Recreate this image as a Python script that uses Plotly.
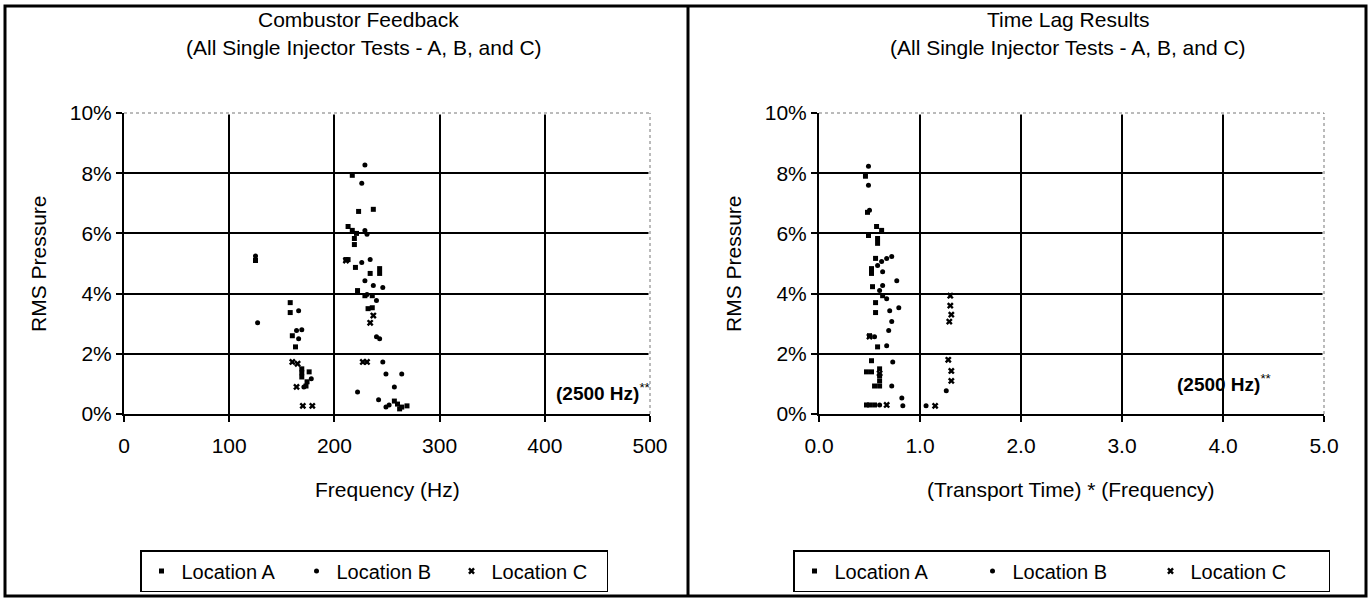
import plotly.graph_objects as go

# ---------------- data ----------------
# Left chart: Frequency (Hz) vs RMS Pressure (%)
freq_A = [125, 158, 158, 160, 163, 169, 169, 169, 173, 217, 223, 237, 213, 217, 221, 219, 219,
          211, 213, 220, 243, 243, 234, 222, 229, 236, 232, 236, 257, 260, 264, 269, 262, 176, 174]
rms_A = [5.1, 3.7, 3.37, 2.6, 2.23, 1.5, 1.37, 1.23, 0.93, 7.93, 6.73, 6.8, 6.23, 6.1, 6.0, 5.83, 5.63,
         5.13, 5.13, 4.87, 4.83, 4.67, 4.67, 4.1, 3.93, 3.93, 3.5, 3.53, 0.43, 0.33, 0.23, 0.27, 0.17, 1.4, 1.07]
freq_B = [125, 127, 166, 164, 169, 166, 229, 226, 229, 231, 226, 234, 229, 237, 246, 231, 240,
          240, 243, 246, 249, 264, 222, 257, 242, 249, 252, 178, 171]
rms_B = [5.25, 3.03, 3.43, 2.77, 2.8, 2.5, 8.27, 7.67, 6.1, 5.97, 5.03, 5.13, 4.43, 4.27, 4.2, 3.97, 3.77,
         2.57, 2.5, 1.73, 1.33, 1.33, 0.73, 0.9, 0.47, 0.23, 0.3, 1.17, 0.9]
freq_C = [160, 165, 164, 170, 179, 237, 234, 227, 231, 211]
rms_C = [1.73, 1.67, 0.9, 0.27, 0.27, 3.27, 3.03, 1.73, 1.73, 5.1]

# Right chart: (Transport Time)*(Frequency) vs RMS Pressure (%)
lag_A = [0.46, 0.48, 0.57, 0.58, 0.58, 0.56, 0.52, 0.52, 0.53, 0.63, 0.56, 0.56, 0.50, 0.58, 0.52,
         0.47, 0.52, 0.60, 0.60, 0.60, 0.60, 0.55, 0.47, 0.50, 0.55, 0.49, 0.62]
rmsl_A = [7.9, 6.7, 6.23, 5.83, 5.67, 5.17, 4.83, 4.67, 4.23, 3.93, 3.7, 3.37, 2.6, 2.23, 1.77,
          1.4, 1.4, 1.5, 1.27, 1.1, 0.93, 0.93, 0.3, 0.3, 0.3, 5.93, 6.1]
lag_B = [0.49, 0.49, 0.50, 0.62, 0.67, 0.72, 0.58, 0.63, 0.77, 0.60, 0.63, 0.67, 0.70, 0.79, 0.72,
         0.69, 0.55, 0.67, 0.73, 0.72, 0.82, 0.83, 1.06, 1.26, 0.60]
rmsl_B = [8.23, 7.6, 6.77, 5.07, 5.17, 5.23, 4.93, 4.73, 4.43, 4.1, 4.27, 3.83, 3.43, 3.53, 3.07,
          2.77, 2.57, 2.27, 1.73, 0.93, 0.53, 0.27, 0.27, 0.77, 0.3]
lag_C = [1.30, 1.30, 1.31, 1.29, 1.28, 1.31, 1.31, 1.15, 0.67, 0.50, 0.60]
rmsl_C = [3.93, 3.6, 3.3, 3.07, 1.8, 1.43, 1.1, 0.27, 0.3, 2.57, 1.35]

series_names = ["Location A", "Location B", "Location C"]
y_ticks = [0, 2, 4, 6, 8, 10]
left_xticks = [0, 100, 200, 300, 400, 500]
right_xticks = [0.0, 1.0, 2.0, 3.0, 4.0, 5.0]

# ---------------- layout geometry ----------------
W, H = 1369, 599
FONT = "Liberation Sans, Arial, Helvetica, sans-serif"
FS = 21

def px(x):
    return x / W

def py(y):
    return 1 - y / H

L_dom = [px(124), px(650)]
R_dom = [px(819), px(1324)]
Y_dom = [py(414), py(113)]

symbols = ["square", "circle", "x"]
sizes = [5, 5, 6]

fig = go.Figure()

left_data = [(freq_A, rms_A), (freq_B, rms_B), (freq_C, rms_C)]
right_data = [(lag_A, rmsl_A), (lag_B, rmsl_B), (lag_C, rmsl_C)]

for i, (xs, ys) in enumerate(left_data):
    fig.add_trace(go.Scatter(
        x=xs, y=ys, mode="markers", name=series_names[i],
        marker=dict(symbol=symbols[i], size=sizes[i], color="black",
                    line=dict(width=0)),
        xaxis="x", yaxis="y", legend="legend", cliponaxis=False))

for i, (xs, ys) in enumerate(right_data):
    fig.add_trace(go.Scatter(
        x=xs, y=ys, mode="markers", name=series_names[i],
        marker=dict(symbol=symbols[i], size=sizes[i], color="black",
                    line=dict(width=0)),
        xaxis="x2", yaxis="y2", legend="legend2", cliponaxis=False))

axis_common = dict(
    showline=True, linecolor="black", linewidth=2,
    ticks="outside", ticklen=6, tickcolor="black", tickwidth=1.5,
    tickfont=dict(family=FONT, size=FS, color="black"),
    zeroline=False, showgrid=True, gridcolor="black",
    mirror=False, fixedrange=True, automargin=False,
)

legend_common = dict(
    orientation="h", xanchor="left", yanchor="top",
    bordercolor="black", borderwidth=1.5, bgcolor="white",
    font=dict(family=FONT, size=20, color="black"),
    itemwidth=30, tracegroupgap=0, entrywidthmode="pixels",
)

fig.update_layout(
    width=W, height=H,
    margin=dict(l=0, r=0, t=0, b=0, autoexpand=False),
    paper_bgcolor="white", plot_bgcolor="white",
    font=dict(family=FONT, size=FS, color="black"),
    xaxis=dict(domain=L_dom, range=[0, 500], tickvals=left_xticks,
               ticktext=[str(v) for v in left_xticks], gridwidth=1.5,
               ticklabelstandoff=6, anchor="y", **axis_common),
    yaxis=dict(domain=Y_dom, range=[0, 10], tickvals=y_ticks,
               ticktext=[f"{v}%" for v in y_ticks], gridwidth=2,
               anchor="x", **axis_common),
    xaxis2=dict(domain=R_dom, range=[0, 5], tickvals=right_xticks,
                ticktext=[f"{v:.1f}" for v in right_xticks], gridwidth=1.5,
                ticklabelstandoff=6, anchor="y2", **axis_common),
    yaxis2=dict(domain=Y_dom, range=[0, 10], tickvals=y_ticks,
                ticktext=[f"{v}%" for v in y_ticks], gridwidth=2,
                anchor="x2", **axis_common),
    legend=dict(x=px(140), y=py(550), entrywidth=110, **legend_common),
    legend2=dict(x=px(793), y=py(550), entrywidth=133, **legend_common),
    showlegend=True,
)

shapes = []
# dotted top/right borders of plot areas
for dom in (L_dom, R_dom):
    shapes.append(dict(type="line", xref="paper", yref="paper", x0=dom[1], x1=dom[1],
                       y0=Y_dom[0], y1=Y_dom[1], line=dict(color="white", width=3)))
    shapes.append(dict(type="line", xref="paper", yref="paper", x0=dom[0], x1=dom[1],
                       y0=Y_dom[1], y1=Y_dom[1], line=dict(color="white", width=3)))
    shapes.append(dict(type="line", xref="paper", yref="paper", x0=dom[1], x1=dom[1],
                       y0=Y_dom[0], y1=Y_dom[1], line=dict(color="#777777", width=1, dash="dot")))
    shapes.append(dict(type="line", xref="paper", yref="paper", x0=dom[0], x1=dom[1],
                       y0=Y_dom[1], y1=Y_dom[1], line=dict(color="#777777", width=1, dash="dot")))
# outer frame and divider
shapes.append(dict(type="rect", xref="paper", yref="paper", x0=px(5), x1=px(1366),
                   y0=py(596), y1=py(6), line=dict(color="black", width=3)))
shapes.append(dict(type="line", xref="paper", yref="paper", x0=px(688), x1=px(688),
                   y0=py(596), y1=py(6), line=dict(color="black", width=3)))
fig.update_layout(shapes=shapes)

def ann(text, x, y, size=FS, **kw):
    d = dict(text=text, x=px(x), y=py(y), xref="paper", yref="paper",
             showarrow=False, font=dict(family=FONT, size=size, color="black"),
             xanchor="center", yanchor="middle")
    d.update(kw)
    return d

annotations = [
    ann("Combustor Feedback", 358, 20),
    ann("(All Single Injector Tests - A, B, and C)", 364, 47),
    ann("Time Lag Results", 1068, 20),
    ann("(All Single Injector Tests - A, B, and C)", 1068, 47),
    ann("RMS Pressure", 38, 264, textangle=-90),
    ann("RMS Pressure", 733, 264, textangle=-90),
    ann("Frequency (Hz)", 387, 490),
    ann("(Transport Time) * (Frequency)", 1070, 490),
    ann("<b>(2500 Hz)</b><sup>**</sup>", 603, 392, size=19),
    ann("<b>(2500 Hz)</b><sup>**</sup>", 1224, 383, size=19),
]
fig.update_layout(annotations=annotations)

fig.write_html("out.html")
